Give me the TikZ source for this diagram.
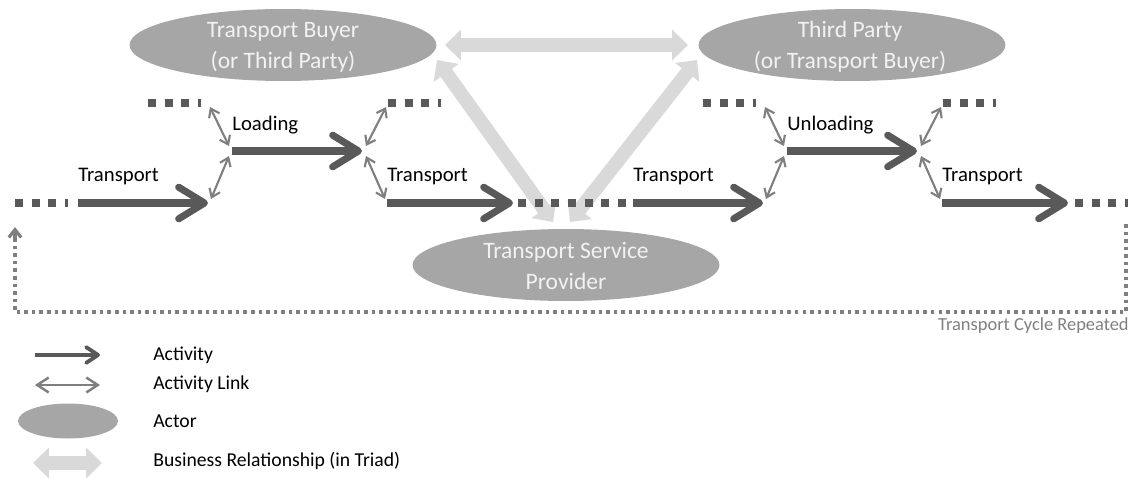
\documentclass[tikz,border=0pt]{standalone}
\usepackage{fontspec}
\setmainfont{Carlito}
\usetikzlibrary{arrows.meta,shapes.geometric}
\definecolor{actc}{HTML}{595959}
\definecolor{linkc}{HTML}{7F7F7F}
\definecolor{actorc}{HTML}{A6A6A6}
\definecolor{triadc}{HTML}{D9D9D9}
\definecolor{actortext}{HTML}{F2F2F2}
\begin{document}
\begin{tikzpicture}[x=0.02cm,y=-0.02cm,
  activity/.style={draw=actc, line width=4pt, -{Straight Barb[length=14.7pt,width=18pt,round]}},
  actdots/.style={draw=actc, line width=4.3pt, dash pattern=on 4.54pt off 4.93pt},
  actstub/.style={draw=actc, line width=4.3pt, dash pattern=on 4.54pt off 4.93pt on 4.54pt off 4.93pt on 4.54pt off 4.93pt on 1.7pt off 40pt},
  actlink/.style={draw=linkc, line width=1.2pt, {Straight Barb[length=4.5pt,width=6.5pt]}-{Straight Barb[length=4.5pt,width=6.5pt]}},
  triad/.style={draw=triadc, line width=7.9pt, {Triangle[length=9pt,width=17pt]}-{Triangle[length=9pt,width=17pt]}},
  actor/.style={ellipse, fill=actorc, inner sep=0pt, minimum width=6.14cm, minimum height=1.44cm},
  actortxt/.style={text=actortext, align=center, inner sep=0pt, font=\fontsize{13.4}{17.5}\selectfont},
  lbl/.style={anchor=west, inner sep=0pt, font=\fontsize{11.8}{14}\selectfont},
  leglbl/.style={anchor=west, inner sep=0pt, font=\fontsize{11.2}{13}\selectfont},
  cycleline/.style={draw=linkc, line width=1.8pt, dash pattern=on 2pt off 2.3pt},
]
\useasboundingbox (0,0) rectangle (1131,477);

% triad relationships
\coordinate (hL) at (445,45);
\coordinate (hR) at (688,45);
\coordinate (dLt) at (437,60);
\coordinate (dLb) at (553,222);
\coordinate (dRb) at (570,222);
\coordinate (dRt) at (697,60);
\draw[triad] (hL) -- (hR);
\draw[triad] (dLt) -- (dLb);
\draw[triad] (dRb) -- (dRt);

% actors
\node[actor] (tb) at (283,45) {};
\node[actortxt] (tbt) at (283,47) {Transport Buyer\\(or Third Party)};
\node[actor] (tp) at (852,45) {};
\node[actortxt] (tpt) at (850,47) {Third Party\\(or Transport Buyer)};
\node[actor] (tsp) at (566,265) {};
\node[actortxt] (tspt) at (566,266) {Transport Service\\Provider};

% activity chain
\coordinate (ld1) at (15,203);
\coordinate (ld2) at (69,203);
\draw[actstub] (ld1) -- (ld2);
\coordinate (md1) at (518,203);
\coordinate (md2) at (630,203);
\draw[actdots] (md1) -- (md2);
\coordinate (rd1) at (1075,203);
\coordinate (rd2) at (1129,203);
\draw[actstub] (rd1) -- (rd2);

\foreach \o/\s/\mid in {0/A/Loading,555/B/Unloading}{
  \coordinate (ta\s) at (78+\o,203);
  \coordinate (tb\s) at (208+\o,203);
  \coordinate (ma\s) at (232+\o,151);
  \coordinate (mb\s) at (362+\o,151);
  \coordinate (tc\s) at (387+\o,203);
  \coordinate (td\s) at (513+\o,203);
  \coordinate (sa\s) at (148+\o,103);
  \coordinate (sb\s) at (202+\o,103);
  \coordinate (sc\s) at (388+\o,103);
  \coordinate (sd\s) at (442+\o,103);
  \draw[activity] (ta\s) -- (tb\s);
  \draw[activity] (ma\s) -- (mb\s);
  \draw[activity] (tc\s) -- (td\s);
  \draw[actstub] (sa\s) -- (sb\s);
  \draw[actstub] (sc\s) -- (sd\s);
  \node[lbl] (lt1\s) at (78+\o,177) {Transport};
  \node[lbl] (lm\s) at (232+\o,125) {\mid};
  \node[lbl] (lt2\s) at (387+\o,177) {Transport};
  \coordinate (la1\s) at (211+\o,199);
  \coordinate (la2\s) at (229+\o,156);
  \coordinate (lb1\s) at (229+\o,146);
  \coordinate (lb2\s) at (210+\o,107);
  \coordinate (lc1\s) at (366+\o,146);
  \coordinate (lc2\s) at (386+\o,107);
  \coordinate (ld1\s) at (366+\o,156);
  \coordinate (ld2\s) at (385+\o,199);
  \draw[actlink] (la1\s) -- (la2\s);
  \draw[actlink] (lb1\s) -- (lb2\s);
  \draw[actlink] (lc1\s) -- (lc2\s);
  \draw[actlink] (ld1\s) -- (ld2\s);
}

% cycle repeated
\coordinate (fbs) at (1126,224);
\coordinate (fbc) at (15,312);
\coordinate (fbe) at (15,227);
\draw[cycleline] (fbs) |- (fbc) -- (fbe);
\draw[draw=linkc, line width=1.8pt, -{Straight Barb[length=4.5pt,width=7pt]}] (15,240) -- (fbe);
\node[anchor=east, inner sep=0pt, text=linkc, font=\fontsize{10.5}{12}\selectfont] (cyc) at (1129,326) {Transport Cycle Repeated};

% legend
\coordinate (g1a) at (35,355);
\coordinate (g1b) at (100,355);
\draw[draw=actc, line width=2.2pt, -{Straight Barb[length=6.8pt,width=9pt,round]}] (g1a) -- (g1b);
\node[leglbl] (g1) at (153,355) {Activity};
\coordinate (g2a) at (35,385);
\coordinate (g2b) at (100,385);
\draw[draw=linkc, line width=1.4pt, {Straight Barb[length=6.5pt,width=8.5pt]}-{Straight Barb[length=6.5pt,width=8.5pt]}] (g2a) -- (g2b);
\node[leglbl] (g2) at (153,384) {Activity Link};
\node[ellipse, fill=actorc, inner sep=0pt, minimum width=2cm, minimum height=0.7cm] (g3e) at (68,421) {};
\node[leglbl] (g3) at (153,421) {Actor};
\coordinate (g4a) at (33,463);
\coordinate (g4b) at (102,463);
\draw[triad] (g4a) -- (g4b);
\node[leglbl] (g4) at (153,461) {Business Relationship (in Triad)};
\end{tikzpicture}
\end{document}
